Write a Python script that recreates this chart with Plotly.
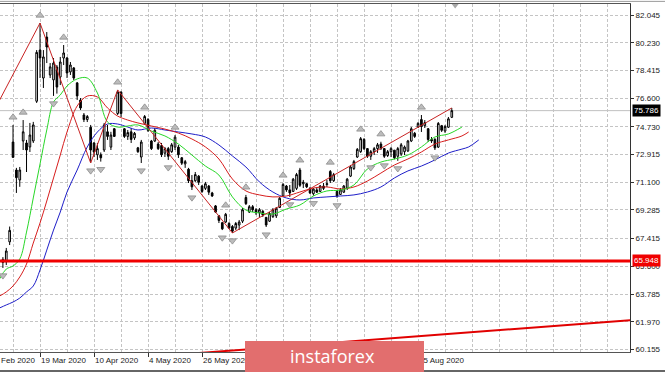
import plotly.graph_objects as go

# ---------------- data ----------------
tick_bar_idx = [11, 27, 43, 59, 75, 91, 107, 123]
date_labels = ["19 Mar 2020", "10 Apr 2020", "4 May 2020", "26 May 2020",
               "17 Jun 2020", "9 Jul 2020", "31 Jul 2020", "25 Aug 2020"]
first_label = "26 Feb 2020"

price_ticks = [82.045, 80.230, 78.415, 76.600, 74.730, 72.915, 71.100,
               69.285, 67.415, 65.600, 63.785, 61.970, 60.155]
price_tick_text = ["82.045", "80.230", "78.415", "76.600", "74.730", "72.915", "71.100",
                   "69.285", "67.415", "65.600", "63.785", "61.970", "60.155"]

opens = [65.85, 65.90, 67.20, 73.73, 71.90, 71.25, 73.80, 73.67, 73.41, 73.80,
         76.40, 79.75, 77.92, 80.60, 78.12, 77.80, 78.64, 77.99, 79.23, 79.23,
         78.32, 78.58, 77.60, 76.48, 75.50, 75.20, 74.70, 73.67, 72.90, 72.90,
         73.21, 74.40, 73.40, 74.60, 75.60, 77.00, 74.60, 74.10, 74.40, 74.00,
         73.35, 72.75, 74.95, 75.20, 73.80, 73.80, 73.60, 73.50, 73.00, 73.30,
         73.10, 73.40, 73.40, 72.70, 72.30, 71.95, 71.20, 71.20, 71.50, 70.85,
         70.70, 70.85, 70.40, 69.55, 68.90, 68.45, 68.50, 68.40, 68.20, 68.10,
         68.30, 68.55, 70.10, 69.15, 69.50, 69.30, 69.10, 69.20, 68.80, 68.55,
         68.85, 68.90, 69.45, 70.20, 70.85, 70.60, 70.50, 70.70, 71.90, 71.00,
         71.00, 70.70, 70.35, 70.60, 70.50, 70.85, 70.95, 71.80, 71.20, 70.50,
         70.30, 70.45, 70.70, 71.50, 72.00, 72.75, 73.10, 73.90, 73.30, 72.80,
         73.10, 73.30, 73.60, 73.30, 72.85, 73.10, 73.20, 72.80, 72.95, 73.10,
         73.15, 73.80, 74.30, 74.70, 75.20, 74.80, 74.60, 73.90, 73.90, 73.40,
         74.80, 74.45, 74.70, 75.35]
highs = [66.20, 66.80, 68.20, 74.85, 72.04, 72.10, 75.17, 73.87, 74.98, 75.05,
         79.75, 81.52, 79.75, 80.93, 78.90, 79.23, 78.77, 79.30, 80.08, 79.30,
         78.97, 78.64, 77.66, 76.61, 75.63, 75.50, 74.85, 73.73, 73.67, 73.05,
         74.98, 74.85, 74.40, 74.65, 77.14, 77.05, 74.65, 74.52, 74.65, 74.39,
         73.41, 73.87, 75.50, 75.30, 73.87, 74.65, 73.73, 73.67, 73.41, 73.41,
         73.67, 74.19, 73.54, 72.75, 72.56, 72.04, 71.57, 71.77, 71.57, 70.92,
         71.12, 70.92, 70.47, 69.61, 68.96, 68.50, 69.09, 68.50, 68.30, 68.50,
         68.63, 69.41, 70.27, 69.61, 69.61, 69.41, 69.41, 69.28, 68.83, 69.15,
         69.41, 69.48, 70.14, 71.05, 70.92, 70.92, 71.38, 71.71, 72.04, 71.25,
         71.05, 70.79, 70.72, 70.79, 70.92, 71.05, 71.25, 71.90, 71.71, 70.60,
         70.72, 70.92, 71.38, 72.23, 72.56, 73.34, 74.06, 73.99, 73.34, 73.21,
         73.41, 73.67, 73.75, 73.34, 73.21, 73.41, 73.21, 73.41, 73.67, 73.50,
         73.87, 74.72, 74.39, 75.04, 75.50, 75.17, 74.65, 74.06, 73.99, 75.04,
         74.85, 74.85, 75.37, 75.96]
lows = [65.49, 65.68, 66.99, 72.69, 70.40, 70.80, 73.21, 71.77, 73.08, 73.67,
        76.29, 77.92, 77.27, 78.90, 77.92, 76.75, 76.90, 77.46, 78.77, 77.92,
        78.12, 77.79, 76.48, 75.83, 75.04, 75.04, 72.36, 72.75, 72.56, 72.45,
        73.08, 73.87, 73.21, 74.06, 75.50, 75.37, 74.00, 73.87, 73.67, 73.87,
        73.02, 72.36, 74.85, 74.39, 73.21, 73.73, 73.21, 72.75, 72.75, 72.56,
        73.02, 73.21, 72.69, 72.23, 72.04, 71.05, 70.59, 71.12, 70.92, 70.40,
        70.59, 70.27, 70.14, 69.09, 68.43, 67.97, 68.43, 68.05, 67.78, 67.97,
        67.97, 68.43, 69.61, 69.09, 69.15, 68.96, 68.83, 68.83, 68.17, 68.50,
        68.76, 68.76, 69.41, 70.20, 70.47, 70.14, 70.47, 70.59, 70.79, 70.72,
        70.72, 70.33, 70.22, 70.40, 70.47, 70.59, 70.79, 71.05, 71.12, 70.08,
        70.27, 70.40, 70.59, 71.44, 71.90, 72.69, 73.02, 73.21, 72.69, 72.56,
        72.88, 73.02, 73.21, 72.69, 72.75, 72.75, 72.60, 72.50, 72.82, 72.88,
        73.08, 73.73, 74.00, 74.65, 74.39, 74.65, 73.73, 73.67, 73.21, 73.34,
        74.39, 74.33, 74.65, 75.30]
closes = [66.05, 66.60, 67.95, 72.73, 71.40, 71.90, 74.40, 73.21, 74.19, 74.85,
          79.60, 79.23, 79.30, 79.95, 78.65, 78.90, 77.33, 78.97, 79.56, 78.25,
          78.77, 77.92, 76.75, 75.96, 75.20, 75.40, 73.21, 73.08, 73.30, 72.70,
          74.85, 74.10, 74.19, 74.10, 77.00, 75.60, 74.10, 74.35, 73.90, 74.30,
          73.10, 73.73, 75.40, 74.50, 73.30, 74.50, 73.30, 72.90, 73.30, 72.80,
          73.55, 74.05, 72.90, 72.35, 72.45, 71.20, 70.80, 71.60, 71.10, 70.50,
          71.00, 70.45, 70.20, 69.15, 68.60, 68.05, 69.00, 68.10, 67.90, 68.40,
          68.50, 69.30, 69.70, 69.50, 69.30, 69.10, 69.30, 68.95, 68.30, 69.05,
          69.30, 69.40, 70.05, 70.95, 70.60, 70.40, 71.30, 71.60, 70.90, 71.10,
          70.80, 70.40, 70.65, 70.45, 70.85, 70.70, 71.00, 71.20, 71.60, 70.20,
          70.60, 70.85, 71.30, 72.10, 72.45, 73.25, 73.95, 73.30, 72.80, 73.10,
          73.30, 73.55, 73.30, 72.80, 73.10, 73.30, 72.70, 73.30, 73.55, 73.40,
          73.80, 74.60, 74.10, 74.95, 74.75, 75.00, 73.90, 73.80, 73.35, 74.95,
          74.50, 74.75, 75.25, 75.786]
bar_idx = list(range(len(opens)))

lips_idx = [-1, 1, 3, 5, 7, 9, 11, 13, 15, 17, 19, 22, 25, 28, 31, 34, 37, 40, 44, 48, 52,
            56, 60, 64, 68, 72, 76, 80, 84, 88, 92, 96, 100, 104, 108, 112, 116, 120, 124,
            128, 132, 136]
lips = [64.77, 65.42, 65.62, 66.08, 67.84, 70.07, 72.29, 74.52, 76.35, 76.81, 77.40,
        77.86, 77.92, 76.94, 75.04, 74.71, 74.78, 74.85, 74.45, 74.13, 73.60, 72.88,
        72.16, 71.57, 70.14, 69.28, 69.09, 69.02, 69.35, 69.61, 70.20, 70.53, 70.59,
        70.92, 71.97, 72.42, 72.62, 72.88, 73.41, 74.06, 74.26, 74.71]
teeth_idx = [-1, 1, 3, 5, 7, 9, 11, 13, 15, 17, 19, 22, 25, 28, 31, 34, 37, 40, 44, 48, 52,
             56, 60, 64, 68, 72, 76, 80, 84, 88, 92, 96, 100, 104, 108, 112, 116, 120, 124,
             128, 132, 136, 138]
teeth = [63.65, 63.92, 64.31, 64.90, 65.75, 67.12, 68.43, 69.87, 71.38, 72.88, 74.39,
         76.09, 76.74, 76.68, 75.96, 75.43, 75.17, 74.98, 74.78, 74.58, 74.32, 73.93,
         73.41, 72.62, 71.31, 70.53, 70.27, 70.14, 70.20, 70.46, 70.72, 70.79, 70.66,
         70.79, 71.18, 71.70, 72.23, 72.62, 73.08, 73.60, 73.87, 74.13, 74.39]
jaw_idx = [-1, 1, 3, 5, 7, 9, 11, 13, 15, 17, 19, 22, 25, 28, 31, 34, 37, 40, 44, 48, 52,
           56, 60, 64, 68, 72, 76, 80, 84, 88, 92, 96, 100, 104, 108, 112, 116, 120, 124,
           128, 132, 136, 138, 141]
jaw = [62.87, 63.07, 63.26, 63.52, 63.92, 64.31, 65.36, 66.66, 67.97, 69.15, 70.46,
       71.90, 73.41, 74.39, 74.91, 74.91, 74.71, 74.52, 74.65, 74.52, 74.39, 74.26,
       74.06, 73.54, 72.82, 72.10, 71.12, 70.46, 70.07, 69.94, 70.07, 70.14, 70.20,
       70.27, 70.46, 70.79, 71.38, 71.84, 72.16, 72.56, 73.01, 73.27, 73.41, 73.87]

# ZigZag vertices
zigzag_idx = [-33, 11, 26, 34, 68, 133]
zigzag_val = [63.00, 81.52, 72.36, 77.14, 67.78, 75.96]

# Fractals
fractal_up_idx = [3, 6, 11, 18, 34, 42, 51, 66, 72, 83, 88, 97, 106, 112, 124]
fractal_down_idx = [0, 15, 26, 29, 41, 49, 56, 65, 68, 78, 85, 92, 99, 109, 113, 117, 128]

# Levels and trend line
current_price = 75.786
support_level = 65.948
trend_idx = [40, 190]
trend_val = [59.62, 62.14]

# ---------------- figure ----------------
FONT = "Liberation Sans"
GRID = "#c4c4c4"

fig = go.Figure()

fig.add_trace(go.Candlestick(
    x=bar_idx, open=opens, high=highs, low=lows, close=closes,
    increasing=dict(line=dict(color="black", width=1), fillcolor="white"),
    decreasing=dict(line=dict(color="black", width=1), fillcolor="black"),
    whiskerwidth=0, showlegend=False, hoverinfo="skip"))

fig.add_trace(go.Scatter(x=jaw_idx, y=jaw, mode="lines", line=dict(color="rgb(30,30,200)", width=1, shape="spline"),
                         showlegend=False, hoverinfo="skip"))
fig.add_trace(go.Scatter(x=teeth_idx, y=teeth, mode="lines", line=dict(color="rgb(215,30,30)", width=1, shape="spline"),
                         showlegend=False, hoverinfo="skip"))
fig.add_trace(go.Scatter(x=lips_idx, y=lips, mode="lines", line=dict(color="rgb(40,215,40)", width=1, shape="spline"),
                         showlegend=False, hoverinfo="skip"))
fig.add_trace(go.Scatter(x=zigzag_idx, y=zigzag_val, mode="lines", line=dict(color="rgb(200,35,35)", width=1),
                         showlegend=False, hoverinfo="skip"))
fig.add_trace(go.Scatter(x=trend_idx, y=trend_val, mode="lines", line=dict(color="rgb(225,0,0)", width=2),
                         showlegend=False, hoverinfo="skip"))

fig.add_trace(go.Scatter(
    x=fractal_up_idx, y=[highs[i] + 0.5 for i in fractal_up_idx], mode="markers",
    marker=dict(symbol="triangle-up", size=7, color="#bcbcbc", line=dict(color="#8c8c8c", width=0.8)),
    showlegend=False, hoverinfo="skip", cliponaxis=False))
fig.add_trace(go.Scatter(
    x=fractal_down_idx, y=[lows[i] - 0.5 for i in fractal_down_idx], mode="markers",
    marker=dict(symbol="triangle-down", size=7, color="#bcbcbc", line=dict(color="#8c8c8c", width=0.8)),
    showlegend=False, hoverinfo="skip", cliponaxis=False))

# chart-shift marker at the top
fig.add_trace(go.Scatter(
    x=[bar_idx[-1] + 1], y=[82.70], mode="markers",
    marker=dict(symbol="triangle-down", size=7, color="#a8a8a8"),
    showlegend=False, hoverinfo="skip", cliponaxis=False))

fig.update_layout(
    width=665, height=372,
    margin=dict(l=0, r=35, t=4, b=20),
    paper_bgcolor="white", plot_bgcolor="white",
    showlegend=False,
    font=dict(family=FONT, size=8, color="#222"),
    xaxis=dict(
        range=[-0.86, 185.8], rangeslider=dict(visible=False),
        tickmode="array", tickvals=tick_bar_idx, ticktext=date_labels, tickangle=0,
        ticklabelposition="outside right", ticks="outside", ticklen=4, tickcolor="#333",
        showgrid=True, gridcolor=GRID, griddash="3px,2px", gridwidth=1,
        minor=dict(tick0=3, dtick=8, showgrid=True, gridcolor=GRID, griddash="3px,2px", ticks=""),
        showline=True, linecolor="#555", linewidth=1, mirror=True, automargin=False,
        zeroline=False, tickfont=dict(family=FONT, size=8, color="#222"),
    ),
    yaxis=dict(
        side="right", range=[59.99, 82.765],
        tickmode="array", tickvals=price_ticks, ticktext=price_tick_text,
        ticks="outside", ticklen=3, tickcolor="#333",
        showgrid=True, gridcolor=GRID, griddash="3px,2px", gridwidth=1,
        showline=True, linecolor="#333", linewidth=1, automargin=False,
        zeroline=False, tickfont=dict(family=FONT, size=8, color="#222"),
    ),
    shapes=[
        dict(type="line", xref="paper", x0=0, x1=1, yref="y", y0=current_price, y1=current_price,
             line=dict(color="#c0c0c0", width=1), layer="below"),
        dict(type="line", xref="paper", x0=0, x1=1, yref="y", y0=support_level, y1=support_level,
             line=dict(color="rgb(240,0,0)", width=3), layer="above"),
        dict(type="line", xref="paper", x0=0, x1=1.06, yref="paper", y0=1.0075, y1=1.0075,
             line=dict(color="#9a9a9a", width=1)),
        dict(type="line", xref="paper", x0=0, x1=1.06, yref="paper", y0=-0.0545, y1=-0.0545,
             line=dict(color="#333333", width=1.5)),
        dict(type="rect", xref="paper", yref="paper", x0=0.3889, x1=0.6730, y0=-0.06, y1=0.0316,
             fillcolor="rgb(226,110,110)", line=dict(width=0), layer="above"),
    ],
    annotations=[
        dict(text=first_label, xref="paper", yref="paper", x=-12 / 630, y=-0.023,
             xanchor="left", yanchor="middle", showarrow=False,
             font=dict(family=FONT, size=8, color="#222")),
        dict(text=f"{current_price:.3f}", xref="paper", yref="y", x=1, y=current_price,
             xanchor="left", yanchor="middle", xshift=2, showarrow=False,
             bgcolor="#000000", borderpad=1, font=dict(family=FONT, size=8, color="white")),
        dict(text=f"{support_level:.3f}", xref="paper", yref="y", x=1, y=support_level,
             xanchor="left", yanchor="middle", xshift=2, showarrow=False,
             bgcolor="rgb(240,0,0)", borderpad=1, font=dict(family=FONT, size=8, color="white")),
        dict(text="instaforex", xref="paper", yref="paper", x=0.527, y=-0.012,
             xanchor="center", yanchor="middle", showarrow=False,
             font=dict(family="Open Sans", size=18, color="white")),
    ],
)

fig.write_html("out.html", config={"displayModeBar": False},
               post_script="document.body.style.margin='0px';document.body.style.overflow='hidden';")
